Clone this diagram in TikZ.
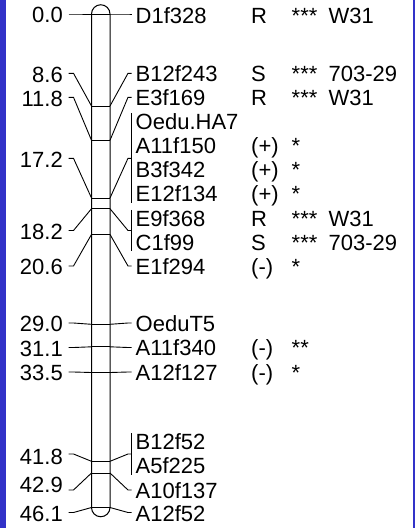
\documentclass[tikz,border=0pt]{standalone}
\usepackage{fontspec}
\setmainfont{Liberation Sans}
\definecolor{blueband}{RGB}{50,50,200}
\begin{document}
\begin{tikzpicture}[x=1pt,y=-1pt,
  lab/.style={inner sep=0pt, font=\fontsize{22}{26}\selectfont},
  llab/.style={lab, anchor=base east},
  rlab/.style={lab, anchor=base west},
  conn/.style={line width=0.9pt, black},
  chrom/.style={line width=1pt, black}]
\useasboundingbox (0,0) rectangle (415,528);
\fill[blueband] (0,0) rectangle (6,528);
\fill[blueband] (413,0) rectangle (415,528);
% chromosome
\draw[chrom] (91.5,507.5) -- (91.5,14) arc[start angle=180,end angle=360,radius=9.25]
  -- (110,507.5) arc[start angle=0,end angle=180,radius=9.25] -- cycle;
% loci: chromosome points
\foreach \n/\yc in {a/14,b/106,c/140.3,d/198,e/208.7,f/234.4,g/324.3,h/346.8,i/372.5,j/461.3,k/473,l/507.5}{
  \coordinate (cl\n) at (91.5,\yc);
  \coordinate (cr\n) at (110,\yc);
  \draw[chrom] (cl\n) -- (cr\n);
}
% left labels (name/dash y/text y/text)
\foreach \n/\yl/\yt/\t in {a/14/15/0.0,b/73.3/74.3/8.6,c/97.3/98.3/11.8,d/158.3/159.3/17.2,e/230.5/231.5/18.2,f/266/267/20.6,g/323/324/29.0,h/347.5/348.5/31.1,i/372/373/33.5,j/454/457/41.8,k/490/484.5/42.9,l/512.5/513.5/46.1}{
  \node[llab] (L\n) at (63,\yt+7.9) {\t};
  \coordinate (la\n) at (68.5,\yl);
  \coordinate (lb\n) at (73.5,\yl);
  \coordinate (ra\n) at (128,\yl);
  \coordinate (rb\n) at (131.5,\yl);
  \draw[conn] (la\n) -- (lb\n) -- (cl\n);
  \draw[conn] (cr\n) -- (ra\n) -- (rb\n);
}
% brackets for grouped loci
\coordinate (bd1) at (131.5,113.3); \coordinate (bd2) at (131.5,202.7);
\coordinate (be1) at (131.5,209.8); \coordinate (be2) at (131.5,251.4);
\coordinate (bj1) at (131.5,433.3); \coordinate (bj2) at (131.5,474.7);
\draw[conn] (bd1) -- (bd2);
\draw[conn] (be1) -- (be2);
\draw[conn] (bj1) -- (bj2);
% right labels
\foreach \n/\y/\a/\b/\c/\d in {
  1/15.5/D1f328/R/***/W31,
  2/74/B12f243/S/***/703-29,
  3/98/E3f169/R/***/W31,
  4/122/Oedu.HA7///,
  5/146/A11f150/(+)/*/,
  6/170/B3f342/(+)/*/,
  7/194/E12f134/(+)/*/,
  8/218.5/E9f368/R/***/W31,
  9/242.7/C1f99/S/***/703-29,
  10/267/E1f294/(-)/*/,
  11/323.5/OeduT5///,
  12/348/A11f340/(-)/**/,
  13/372.5/A12f127/(-)/*/,
  14/442/B12f52///,
  15/466/A5f225///,
  16/491/A10f137///,
  17/514/A12f52///}{
  \node[rlab] (R\n) at (135.5,\y+7.9) {\a};
  \node[rlab] (S\n) at (251,\y+7.9) {\b};
  \node[rlab] (T\n) at (291.5,\y+7.9) {\c};
  \node[rlab] (U\n) at (328.5,\y+7.9) {\d};
}
\end{tikzpicture}
\end{document}
